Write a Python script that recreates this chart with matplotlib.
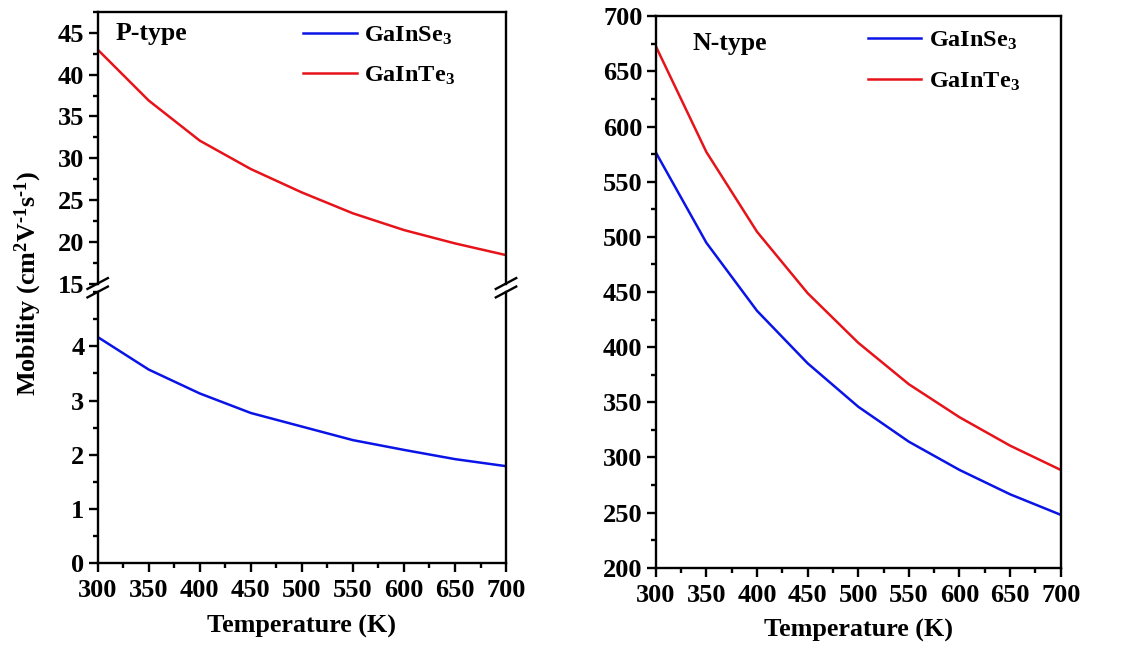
import matplotlib
matplotlib.use("Agg")
import matplotlib.pyplot as plt
from matplotlib.ticker import MultipleLocator

plt.rcParams['font.family'] = ['Liberation Serif', 'DejaVu Serif']
plt.rcParams['font.weight'] = 'bold'
plt.rcParams['mathtext.fontset'] = 'custom'
plt.rcParams['mathtext.rm'] = 'Liberation Serif:bold'
plt.rcParams['mathtext.bf'] = 'Liberation Serif:bold'
plt.rcParams['mathtext.default'] = 'bf'

temperature = [300, 350, 400, 450, 500, 550, 600, 650, 700]

# hole mobility (cm^2 V^-1 s^-1)
p_gainse3 = [4.17, 3.57, 3.13, 2.77, 2.52, 2.27, 2.09, 1.92, 1.79]
p_gainte3 = [43.0, 36.9, 32.1, 28.7, 25.9, 23.4, 21.4, 19.8, 18.4]

# electron mobility (cm^2 V^-1 s^-1)
n_gainse3 = [576.7, 494.7, 433.0, 385.4, 346.0, 314.3, 288.7, 266.6, 248.0]
n_gainte3 = [673.0, 577.0, 504.7, 449.0, 404.0, 366.4, 336.5, 310.7, 288.7]

labels = ['GaInSe$_3$', 'GaInTe$_3$']
colors = ['#0a14e6', '#e6141a']

W, H = 1124, 651
fig = plt.figure(figsize=(W / 100, H / 100), dpi=100)

ax_top = fig.add_axes([0.0869, 0.5645, 0.3633, 0.4171])
ax_bot = fig.add_axes([0.0869, 0.1347, 0.3633, 0.4168])
ax_n = fig.add_axes([0.5834, 0.1279, 0.3603, 0.8470])

tick_fs = 19
label_fs = 18.8
legend_fs = 17.5
lw_spine = 1.7
lw_curve = 1.8


def style(ax, major, minor):
    for s in ax.spines.values():
        s.set_linewidth(lw_spine)
    ax.yaxis.set_major_locator(MultipleLocator(major))
    ax.yaxis.set_minor_locator(MultipleLocator(minor))
    ax.xaxis.set_major_locator(MultipleLocator(50))
    ax.xaxis.set_minor_locator(MultipleLocator(25))
    ax.tick_params(which='major', direction='out', length=6.5, width=lw_spine,
                   labelsize=tick_fs, top=False, right=False, pad=3)
    ax.tick_params(which='minor', direction='out', length=3.5, width=lw_spine,
                   top=False, right=False)
    ax.tick_params(axis='x', which='major', pad=5)
    ax.set_xlim(300, 700)


# P-type, upper part (GaInTe3)
l2, = ax_top.plot(temperature, p_gainte3, color=colors[1], lw=lw_curve)
l1, = ax_top.plot([], [], color=colors[0], lw=lw_curve)
style(ax_top, 5, 2.5)
ax_top.set_ylim(15, 47.5)
ax_top.spines['bottom'].set_visible(False)
ax_top.tick_params(axis='x', which='both', bottom=False, labelbottom=False)
ax_top.text(0.045, 0.92, 'P-type', transform=ax_top.transAxes,
            fontsize=18.5, fontweight='bold', va='center', ha='left')
ax_top.legend([l1, l2], labels, loc='upper left', bbox_to_anchor=(0.45, 1.035),
              frameon=False, fontsize=legend_fs, handlelength=2.2, handletextpad=0.3,
              labelspacing=0.75)

# P-type, lower part (GaInSe3)
ax_bot.plot(temperature, p_gainse3, color=colors[0], lw=lw_curve)
style(ax_bot, 1, 0.5)
ax_bot.set_ylim(0, 5)
ax_bot.spines['top'].set_visible(False)
ax_bot.set_yticks([0, 1, 2, 3, 4])
ax_bot.set_xlabel('Temperature (K)', fontsize=label_fs, fontweight='bold', labelpad=9)

# axis break marks on both vertical spines
for xb in (0.0, 1.0):
    for yb, ax in ((0.0, ax_top), (1.0, ax_bot)):
        ax.plot([xb - 0.025, xb + 0.025], [yb - 0.02, yb + 0.02],
                transform=ax.transAxes, color='black', lw=lw_spine, clip_on=False)

fig.text(0.025, 0.5645, 'Mobility (cm$^2$V$^{\\text{-}1}$s$^{\\text{-}1}$)', rotation=90,
         fontsize=label_fs, fontweight='bold', ha='center', va='center')

# N-type
n1, = ax_n.plot(temperature, n_gainse3, color=colors[0], lw=lw_curve)
n2, = ax_n.plot(temperature, n_gainte3, color=colors[1], lw=lw_curve)
style(ax_n, 50, 25)
ax_n.set_ylim(200, 700)
ax_n.set_xlabel('Temperature (K)', fontsize=label_fs, fontweight='bold', labelpad=9)
ax_n.text(0.09, 0.95, 'N-type', transform=ax_n.transAxes,
          fontsize=18.5, fontweight='bold', va='center', ha='left')
ax_n.legend([n1, n2], labels, loc='upper left', bbox_to_anchor=(0.47, 1.015),
            frameon=False, fontsize=legend_fs, handlelength=2.2, handletextpad=0.3,
            labelspacing=0.75)

fig.savefig('out.png', dpi=100)
